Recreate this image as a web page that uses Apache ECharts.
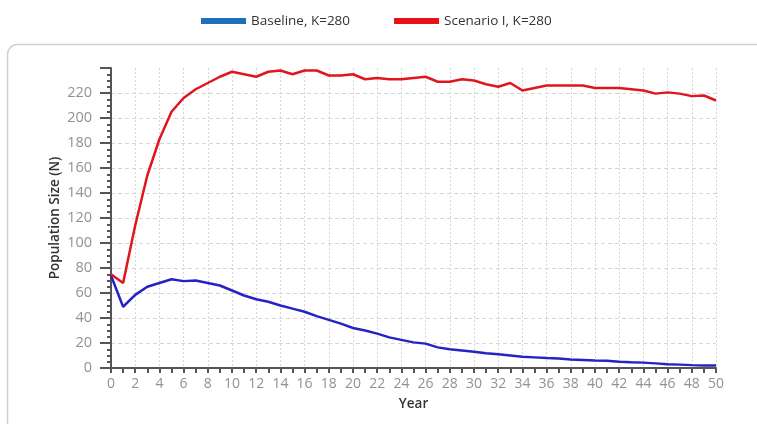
<!DOCTYPE html>
<html>
<head>
<meta charset="utf-8">
<script src="https://cdn.jsdelivr.net/npm/echarts@6/dist/echarts.min.js"></script>
<style>
html,body{margin:0;padding:0;background:#fff;}
#chart{width:757px;height:424px;}
</style>
</head>
<body>
<div id="chart"></div>
<script>
var years = [];
for (var i = 0; i <= 50; i++) years.push(i);
var baseline = [74, 49, 58.5, 65, 68, 71, 69.5, 70, 68, 66, 62, 58, 55, 53, 50, 47.5, 45, 41.5, 38.5, 35.5, 32, 30, 27.5, 24.5, 22.5, 20.5, 19.5, 16.5, 15, 14, 13, 11.8, 11, 10, 9, 8.5, 8, 7.6, 6.8, 6.4, 6, 5.8, 5, 4.6, 4.3, 3.7, 3, 2.7, 2.3, 2, 2];
var scenario = [75, 68, 114, 154, 183, 205, 216, 223, 228, 233, 237, 235, 233, 237, 238, 235, 238, 238, 234, 234, 235, 231, 232, 231, 231, 232, 233, 229, 229, 231, 230, 227, 225, 228, 222, 224, 226, 226, 226, 226, 224, 224, 224, 223, 222, 219.5, 220.5, 219.5, 217.5, 218, 214];
var seriesNames = ['Baseline, K=280', 'Scenario I, K=280'];

function pairs(arr) { return years.map(function (y, i) { return [y, arr[i]]; }); }

var chart = echarts.init(document.getElementById('chart'));
var labelFont = 'Open Sans, sans-serif';
chart.setOption({
  animation: false,
  graphic: [{
    type: 'rect', z: -10, silent: true,
    shape: { x: 7.5, y: 44.5, width: 770, height: 400, r: 10 },
    style: { fill: 'none', stroke: '#cfcfcf', lineWidth: 1.5 }
  }],
  legend: {
    left: 196, top: 9,
    icon: 'rect', itemWidth: 45, itemHeight: 6, itemGap: 44,
    textStyle: { fontFamily: labelFont, fontSize: 13.5, color: '#333' },
    data: seriesNames
  },
  grid: { left: 111, right: 41, top: 68, bottom: 56 },
  xAxis: {
    type: 'value', min: 0, max: 50, interval: 2,
    name: 'Year', nameLocation: 'middle', nameGap: 29, nameMoveOverlap: false,
    nameTextStyle: { fontFamily: labelFont, fontSize: 13.5, color: '#333', fontWeight: 600 },
    axisLine: { lineStyle: { color: '#555', width: 2 } },
    axisTick: { show: true, length: 5, lineStyle: { color: '#555', width: 2 } },
    minorTick: { show: true, splitNumber: 2, length: 5, lineStyle: { color: '#555', width: 2 } },
    axisLabel: { fontFamily: labelFont, fontSize: 14, color: '#929292', margin: 9 },
    splitLine: { show: true, showMinLine: false, lineStyle: { color: '#d6d6d6', type: [2, 2], width: 1 } }
  },
  yAxis: {
    type: 'value', min: 0, max: 240, interval: 20,
    name: 'Population Size (N)', nameLocation: 'middle', nameGap: 49, nameRotate: 90, nameMoveOverlap: false,
    nameTextStyle: { fontFamily: labelFont, fontSize: 13.5, color: '#333', fontWeight: 600 },
    axisLine: { show: true, lineStyle: { color: '#555', width: 2 } },
    axisTick: { show: true, length: 11, lineStyle: { color: '#555', width: 2 } },
    minorTick: { show: true, splitNumber: 4, length: 4, lineStyle: { color: '#555', width: 2 } },
    axisLabel: { fontFamily: labelFont, fontSize: 14.5, color: '#929292', margin: 19, showMaxLabel: false },
    splitLine: { show: true, showMinLine: false, showMaxLine: false, lineStyle: { color: '#d6d6d6', type: [4, 3], width: 1 } }
  },
  series: [
    {
      name: seriesNames[0], type: 'line', symbol: 'none', data: pairs(baseline),
      itemStyle: { color: '#1f6fbf' },
      lineStyle: { color: '#2424c4', width: 2.5 }
    },
    {
      name: seriesNames[1], type: 'line', symbol: 'none', data: pairs(scenario),
      itemStyle: { color: '#e8101a' },
      lineStyle: { color: '#e0161e', width: 2.5 }
    }
  ]
});
</script>
</body>
</html>
